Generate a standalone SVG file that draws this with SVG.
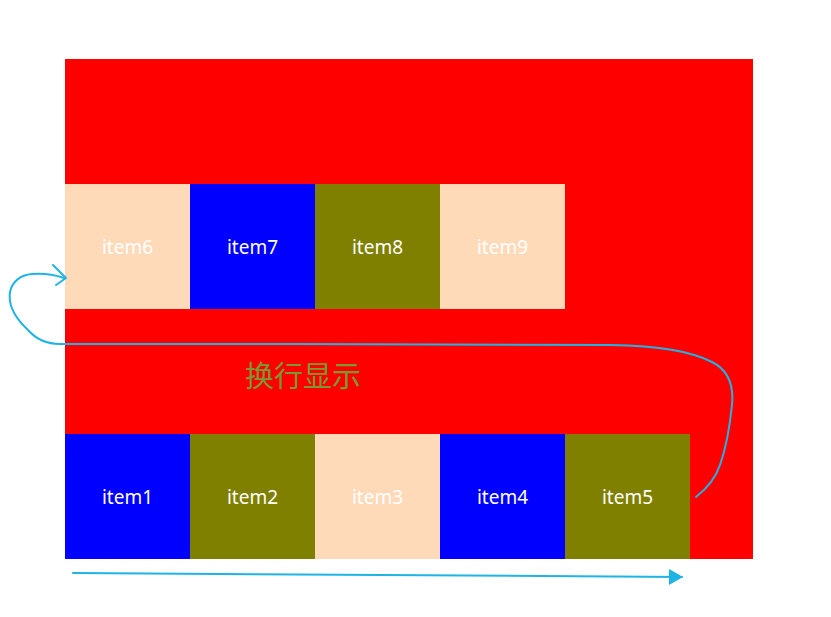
<svg xmlns="http://www.w3.org/2000/svg" width="831" height="617" viewBox="0 0 831 617">
<defs>
<style>
.lbl{font-family:"Noto Sans","Liberation Sans",sans-serif;font-size:19px;fill:#fff;text-anchor:middle}
.peach{fill:#FFDAB9}.blue{fill:#0000FF}.olive{fill:#808000}
.pen{fill:none;stroke:#1EB4E6;stroke-width:2;stroke-linecap:round;stroke-linejoin:round}
</style>
<marker id="tri" markerWidth="14" markerHeight="16" refX="13" refY="8" orient="auto" markerUnits="userSpaceOnUse">
<path d="M0,0 L14,8 L0,16 Z" fill="#1EB4E6"/>
</marker>
</defs>
<rect width="831" height="617" fill="#fff"/>
<rect id="container" x="65" y="59" width="688" height="500" fill="#FF0000"/>
<g id="item6"><rect class="peach" x="65" y="184" width="125" height="125"/><text class="lbl" x="127.5" y="254">item6</text></g>
<g id="item7"><rect class="blue" x="190" y="184" width="125" height="125"/><text class="lbl" x="252.5" y="254">item7</text></g>
<g id="item8"><rect class="olive" x="315" y="184" width="125" height="125"/><text class="lbl" x="377.5" y="254">item8</text></g>
<g id="item9"><rect class="peach" x="440" y="184" width="125" height="125"/><text class="lbl" x="502.5" y="254">item9</text></g>
<g id="item1"><rect class="blue" x="65" y="434" width="125" height="125"/><text class="lbl" x="127.5" y="504">item1</text></g>
<g id="item2"><rect class="olive" x="190" y="434" width="125" height="125"/><text class="lbl" x="252.5" y="504">item2</text></g>
<g id="item3"><rect class="peach" x="315" y="434" width="125" height="125"/><text class="lbl" x="377.5" y="504">item3</text></g>
<g id="item4"><rect class="blue" x="440" y="434" width="125" height="125"/><text class="lbl" x="502.5" y="504">item4</text></g>
<g id="item5"><rect class="olive" x="565" y="434" width="125" height="125"/><text class="lbl" x="627.5" y="504">item5</text></g>
<text x="245" y="387" font-family="'Noto Sans CJK SC',sans-serif" font-size="29" fill="#7A9A30">换行显示</text>
<g id="connectors">
<path class="pen" d="M696,497 C705,490 715,480 720,465 C726,448 730,425 732,405 C734,385 728,370 712,362 C690,351 660,346 610,345 C500,344 300,344 140,344 L60,344 C45,344 35,338 28,330 C15,318 8,305 10,292 C12,282 20,275 32,274 C45,273 55,275 64,278"/>
<path class="pen" d="M53,265 L66,278 L56,285"/>
<path class="pen" d="M73,573 L682,577" marker-end="url(#tri)"/>
</g>
</svg>
